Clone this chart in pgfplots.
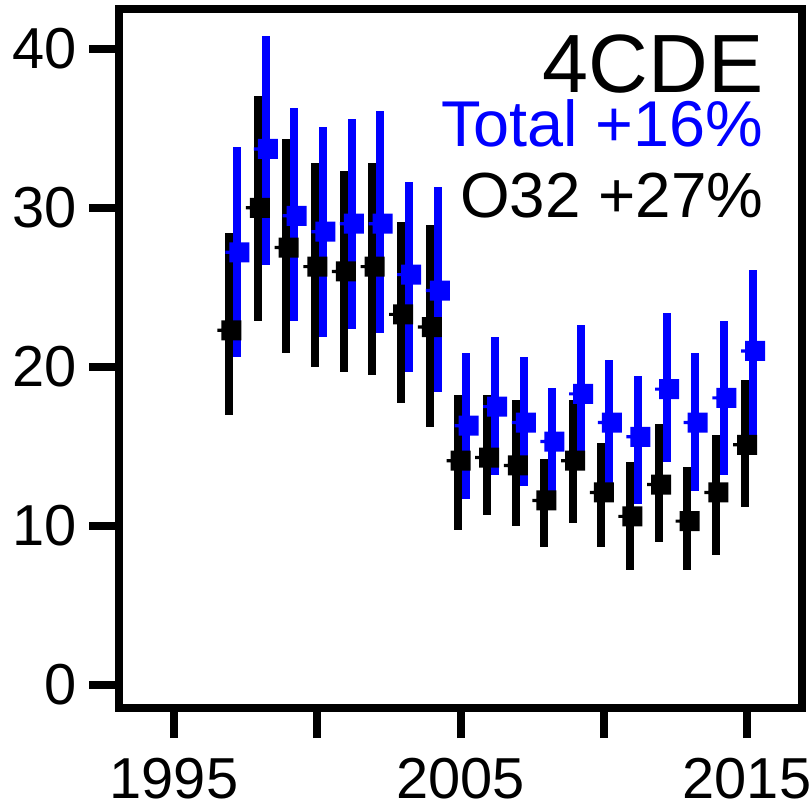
\documentclass[border=0pt]{standalone}
\usepackage{fontspec}
\setmainfont{Liberation Sans}
\usepackage{pgfplots}
\usepackage{pgfplotstable}
\pgfplotsset{compat=1.18}

% year, black (lo mid hi), blue (lo mid hi)
\pgfplotstableread{
yr   klo   kmid  khi   blo   bmid  bhi
1997 17.0  22.3  28.4  20.6  27.2  33.8
1998 22.9  30.0  37.0  26.4  33.7  40.8
1999 20.9  27.5  34.3  22.9  29.5  36.3
2000 20.0  26.3  32.8  21.9  28.5  35.1
2001 19.7  26.0  32.3  22.4  29.0  35.6
2002 19.5  26.3  32.8  22.1  29.0  36.1
2003 17.7  23.3  29.1  19.7  25.8  31.6
2004 16.2  22.5  28.9  18.4  24.8  31.3
2005 9.75  14.1  18.2  11.7  16.3  20.9
2006 10.7  14.3  18.2  13.2  17.5  21.9
2007 10.0  13.8  17.9  12.5  16.5  20.6
2008 8.7   11.6  14.2  12.2  15.3  18.7
2009 10.2  14.1  17.9  14.0  18.3  22.6
2010 8.7   12.1  15.2  12.7  16.5  20.4
2011 7.2   10.6  14.0  11.4  15.6  19.4
2012 9.0   12.6  16.4  14.0  18.6  23.4
2013 7.2   10.3  13.7  12.2  16.5  20.9
2014 8.2   12.1  15.7  13.2  18.05 22.9
2015 11.2  15.1  19.2  15.7  21.0  26.1
}\datatab

% filled square with a small nub on its left side
\pgfdeclareplotmark{sqnub}{%
  \pgfpathrectangle{\pgfpoint{-5bp}{-5bp}}{\pgfpoint{10bp}{10bp}}%
  \pgfpathrectangle{\pgfpoint{-7bp}{-0.8bp}}{\pgfpoint{2.2bp}{1.6bp}}%
  \pgfusepathqfill}

\definecolor{rblue}{RGB}{0,0,255}

\begin{document}
\begin{tikzpicture}
\path[use as bounding box] (-59.5bp,-50bp) rectangle (346bp,354bp);
\begin{axis}[
    scale only axis,
    width=341.5bp, height=349.5bp,
    xmin=1993.08, xmax=2016.92,
    ymin=-1.45, ymax=42.5,
    axis line style={line width=4bp},
    every tick/.style={black, line width=4bp},
    major tick length=15bp,
    tick align=outside,
    xtick={1995,2000,2005,2010,2015},
    xticklabels={1995,,2005,,2015},
    ytick={0,10,20,30,40},
    xtick pos=bottom, ytick pos=left,
    /pgf/number format/assume math mode=true,
    ticklabel style={font=\fontsize{29}{29}\selectfont},
    yticklabel style={inner xsep=6bp},
    xticklabel style={inner ysep=10bp},
    clip=false,
]
% blue points (under the black bars)
\addplot[only marks, mark=sqnub, rblue]
  table[x expr=\thisrow{yr}+0.28, y=bmid] {\datatab};
% black intervals and points
\addplot[draw=none, mark=none, black,
    error bars/.cd, y dir=both, y explicit, error mark=none,
    error bar style={line width=4bp, line cap=butt, black}]
  table[x expr=\thisrow{yr}-0.08, y=kmid,
        y error plus expr=\thisrow{khi}-\thisrow{kmid},
        y error minus expr=\thisrow{kmid}-\thisrow{klo}] {\datatab};
\addplot[only marks, mark=sqnub, black]
  table[x=yr, y=kmid] {\datatab};
% blue intervals
\addplot[draw=none, mark=none, rblue,
    error bars/.cd, y dir=both, y explicit, error mark=none,
    error bar style={line width=4bp, line cap=butt, rblue}]
  table[x expr=\thisrow{yr}+0.2, y=bmid,
        y error plus expr=\thisrow{bhi}-\thisrow{bmid},
        y error minus expr=\thisrow{bmid}-\thisrow{blo}] {\datatab};

\node[anchor=base east, inner sep=0pt, font=\fontsize{41.5}{41.5}\selectfont]
  at (rel axis cs:0.944,0.881) {4CDE};
\node[anchor=base east, inner sep=0pt, text=rblue, font=\fontsize{32.5}{32.5}\selectfont]
  at (rel axis cs:0.944,0.8026) {Total +16\%};
\node[anchor=base east, inner sep=0pt, font=\fontsize{32}{32}\selectfont]
  at (rel axis cs:0.944,0.7024) {O32 +27\%};
\end{axis}
\end{tikzpicture}
\end{document}
